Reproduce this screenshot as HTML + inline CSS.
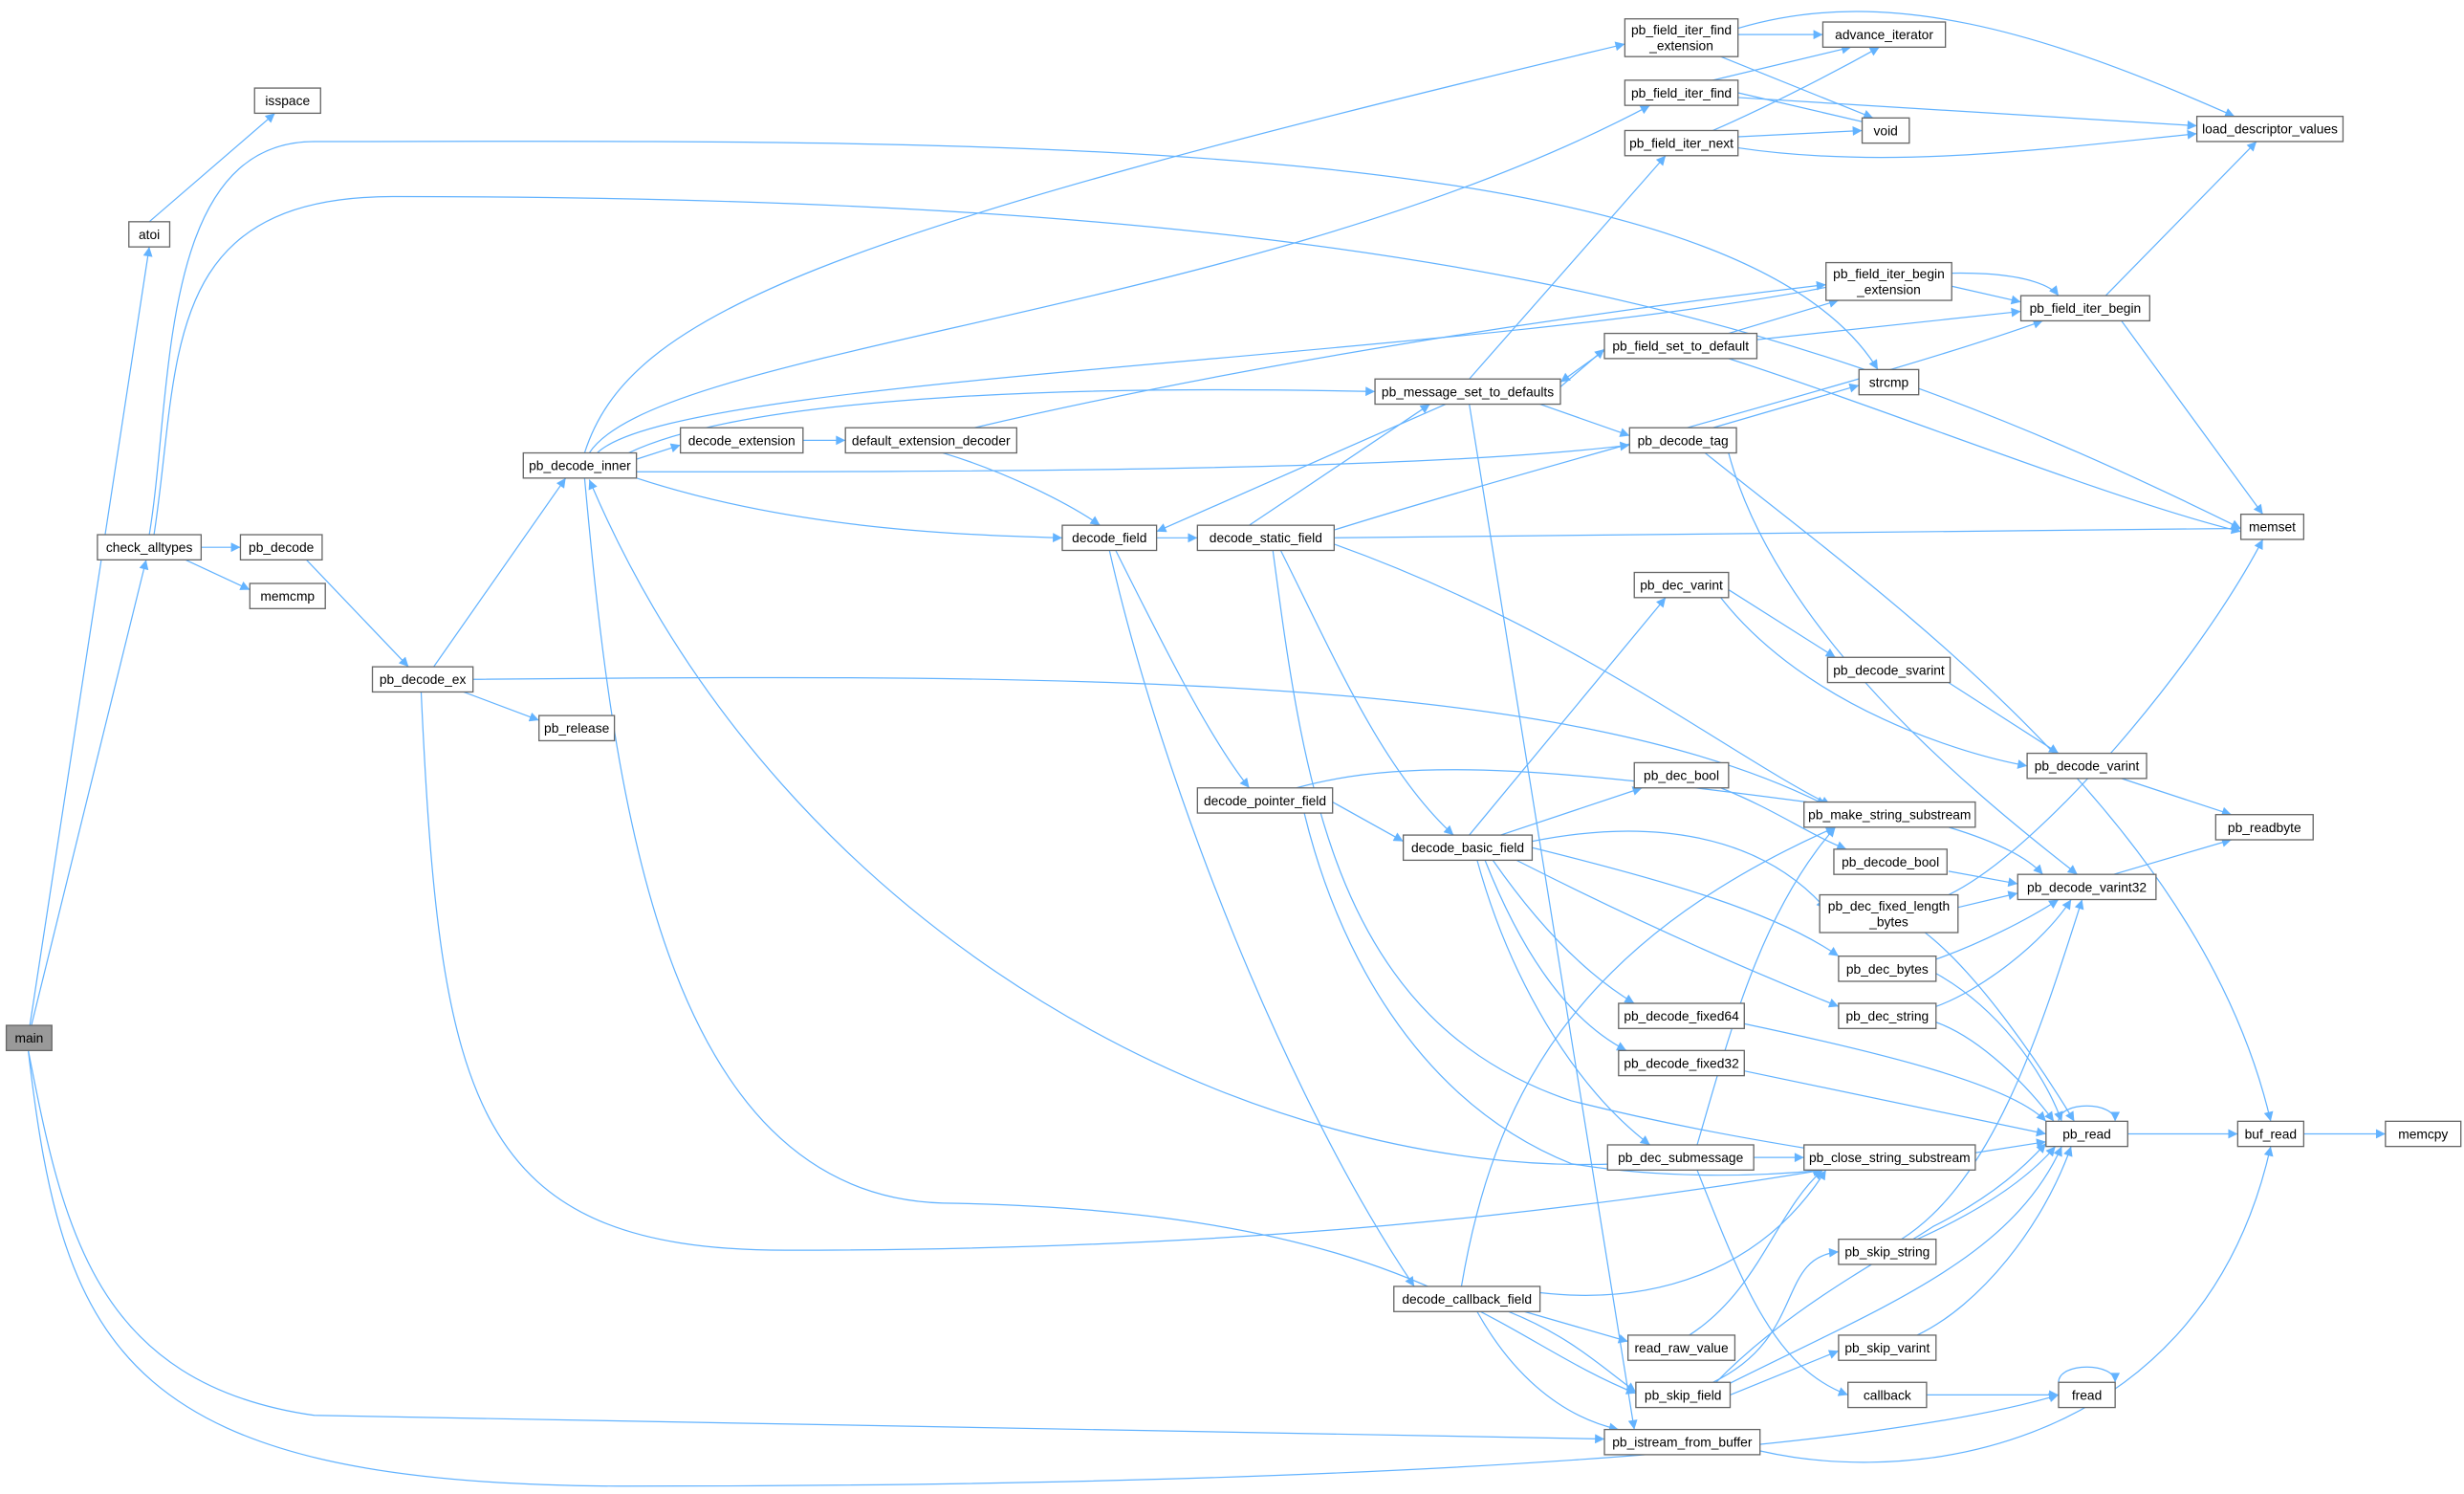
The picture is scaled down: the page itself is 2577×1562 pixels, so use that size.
<!DOCTYPE html>
<html><head><meta charset="utf-8"><style>
html,body{margin:0;padding:0;background:#fff;}
svg{display:block;}
text{font-family:"Liberation Sans",sans-serif;font-size:8.4px;fill:#000;text-anchor:middle;}
.n{fill:#fff;stroke:#666;stroke-width:0.8;}
.e{fill:none;stroke:#63b3ff;stroke-width:0.75;marker-end:url(#a);}
</style></head><body>
<svg width="2577" height="1562" viewBox="0 0 1568 950" preserveAspectRatio="none" xmlns="http://www.w3.org/2000/svg">
<defs><marker id="a" viewBox="0 0 10 10" refX="10" refY="5" markerWidth="7" markerHeight="6" markerUnits="userSpaceOnUse" orient="auto"><path d="M0,0L10,5L0,10z" fill="#63b3ff"/></marker></defs>
<g>
<path class="e" d="M19,652 L95,157"/>
<path class="e" d="M20,652 L93,356"/>
<path class="e" d="M18,668 C40,780 60,880 200,900 L1021,915"/>
<path class="e" d="M18,668 C40,860 80,945 400,945 C900,945 1200,920 1310,887"/>
<path class="e" d="M95,141 L175,72"/>
<path class="e" d="M95,340 C110,250 100,90 200,90 C600,90 1100,80 1195,235"/>
<path class="e" d="M98,340 C115,230 100,125 250,125 C900,125 1150,200 1426,336"/>
<path class="e" d="M128,348 L153,348"/>
<path class="e" d="M118,356 L159,375"/>
<path class="e" d="M195,356 L260,424"/>
<path class="e" d="M276,424 L360,304"/>
<path class="e" d="M295,440 L343,458"/>
<path class="e" d="M301,432 C700,428 1000,430 1162,512"/>
<path class="e" d="M268,440 C280,700 300,795 500,795 C800,795 1000,770 1160,744"/>
<path class="e" d="M372,288 C400,200 520,150 1034,28"/>
<path class="e" d="M375,288 C420,220 800,200 1050,67"/>
<path class="e" d="M380,288 C430,240 900,230 1150,185 C1250,165 1300,175 1310,188"/>
<path class="e" d="M400,288 C480,250 700,245 875,249"/>
<path class="e" d="M405,292 L433,283"/>
<path class="e" d="M405,300 C600,300 900,300 1037,283"/>
<path class="e" d="M405,304 C500,335 600,340 676,342"/>
<path class="e" d="M372,304 C390,500 420,760 600,765 C900,770 950,850 1041,886"/>
<path class="e" d="M1030,740 C800,750 500,600 375,305"/>
<path class="e" d="M511,280 L538,280"/>
<path class="e" d="M620,272 C800,230 1000,200 1162,181"/>
<path class="e" d="M600,288 C640,300 680,320 700,334"/>
<path class="e" d="M736,342 L762,342"/>
<path class="e" d="M710,350 C740,410 770,470 795,501"/>
<path class="e" d="M706,350 C740,500 820,700 900,818"/>
<path class="e" d="M795,334 L910,257"/>
<path class="e" d="M849,337 C1000,290 1200,240 1300,204"/>
<path class="e" d="M849,342 C1100,340 1300,338 1426,336"/>
<path class="e" d="M849,346 C1000,400 1100,480 1165,512"/>
<path class="e" d="M815,350 C850,420 880,490 925,531"/>
<path class="e" d="M810,350 C830,500 850,650 1000,700 C1080,720 1150,730 1160,732"/>
<path class="e" d="M935,241 L1060,99"/>
<path class="e" d="M993,246 L1021,222"/>
<path class="e" d="M980,257 L1037,277"/>
<path class="e" d="M920,257 L736,338"/>
<path class="e" d="M935,257 L1040,909"/>
<path class="e" d="M1100,212 L1170,191"/>
<path class="e" d="M1118,216 L1286,198"/>
<path class="e" d="M1100,228 C1200,260 1350,320 1426,338"/>
<path class="e" d="M1025,220 L993,243"/>
<path class="e" d="M1106,22 L1160,22"/>
<path class="e" d="M1095,36 L1192,75"/>
<path class="e" d="M1106,18 C1200,-10 1300,20 1422,74"/>
<path class="e" d="M1090,51 L1178,30"/>
<path class="e" d="M1106,59 L1192,79"/>
<path class="e" d="M1106,62 L1398,80"/>
<path class="e" d="M1090,83 C1120,70 1160,50 1196,30"/>
<path class="e" d="M1106,87 L1185,83"/>
<path class="e" d="M1106,94 C1200,108 1300,95 1398,85"/>
<path class="e" d="M1242,182 L1286,192"/>
<path class="e" d="M1340,188 L1436,90"/>
<path class="e" d="M1350,204 L1440,327"/>
<path class="e" d="M1090,272 L1183,245"/>
<path class="e" d="M1100,288 C1130,400 1250,500 1322,556"/>
<path class="e" d="M1085,288 C1200,380 1400,520 1445,713"/>
<path class="e" d="M1100,375 L1168,418"/>
<path class="e" d="M1095,380 C1150,450 1250,480 1290,487"/>
<path class="e" d="M1240,434 L1310,479"/>
<path class="e" d="M1350,495 L1420,518"/>
<path class="e" d="M1345,556 L1420,534"/>
<path class="e" d="M1240,526 C1270,535 1290,545 1300,556"/>
<path class="e" d="M1240,569 C1300,540 1400,420 1440,343"/>
<path class="e" d="M1240,554 L1284,562"/>
<path class="e" d="M1246,577 L1284,568"/>
<path class="e" d="M1232,610 C1260,600 1290,585 1310,572"/>
<path class="e" d="M1232,640 C1260,630 1300,600 1318,572"/>
<path class="e" d="M1225,593 C1260,620 1300,680 1320,713"/>
<path class="e" d="M1232,619 C1270,640 1300,680 1312,713"/>
<path class="e" d="M1232,650 C1260,660 1290,690 1307,713"/>
<path class="e" d="M1110,651 C1200,670 1280,690 1302,713"/>
<path class="e" d="M1110,681 L1302,721"/>
<path class="e" d="M1257,733 L1302,726"/>
<path class="e" d="M1310,713 C1310,700 1346,700 1346,713"/>
<path class="e" d="M1354,721 L1424,721"/>
<path class="e" d="M1466,721 L1518,721"/>
<path class="e" d="M1310,879 C1310,866 1346,866 1346,879"/>
<path class="e" d="M1226,887 L1310,887"/>
<path class="e" d="M1100,917 C1200,950 1400,930 1445,729"/>
<path class="e" d="M825,501 C900,480 1000,490 1165,512"/>
<path class="e" d="M848,510 L893,535"/>
<path class="e" d="M830,517 C850,600 900,700 1000,740 C1060,750 1120,748 1160,744"/>
<path class="e" d="M935,531 L1060,380"/>
<path class="e" d="M955,531 L1045,501"/>
<path class="e" d="M975,535 C1050,520 1120,530 1162,578"/>
<path class="e" d="M975,539 C1060,560 1130,580 1170,608"/>
<path class="e" d="M965,547 C1050,590 1120,620 1170,640"/>
<path class="e" d="M950,547 C980,590 1010,620 1040,638"/>
<path class="e" d="M945,547 C970,610 1000,650 1035,668"/>
<path class="e" d="M940,547 C960,620 1000,690 1050,728"/>
<path class="e" d="M1095,501 C1130,515 1150,530 1175,540"/>
<path class="e" d="M1116,736 L1148,736"/>
<path class="e" d="M1080,728 C1100,660 1120,580 1168,526"/>
<path class="e" d="M1080,744 C1110,820 1130,870 1176,887"/>
<path class="e" d="M930,818 C950,700 1000,600 1168,526"/>
<path class="e" d="M980,822 C1050,830 1120,810 1162,744"/>
<path class="e" d="M970,834 L1036,853"/>
<path class="e" d="M960,834 C1000,850 1020,870 1041,885"/>
<path class="e" d="M940,834 C960,870 990,900 1030,909"/>
<path class="e" d="M1075,849 C1120,820 1130,770 1160,744"/>
<path class="e" d="M1090,879 C1150,850 1130,800 1170,796"/>
<path class="e" d="M1101,887 L1170,859"/>
<path class="e" d="M1092,879 C1140,830 1200,800 1230,780 C1270,760 1290,740 1302,727"/>
<path class="e" d="M1100,880 C1200,830 1280,800 1312,729"/>
<path class="e" d="M1210,788 C1270,750 1300,650 1325,572"/>
<path class="e" d="M1220,788 C1260,770 1290,750 1308,729"/>
<path class="e" d="M1220,849 C1260,830 1300,780 1318,729"/>
</g>
<g>
<rect x="4" y="652" width="29" height="16" fill="#999" stroke="#666" stroke-width="0.8"/><text x="18.5" y="663">main</text>
<rect class="n" x="82" y="141" width="26" height="16"/><text x="95" y="152">atoi</text>
<rect class="n" x="162" y="56" width="42" height="16"/><text x="183" y="67">isspace</text>
<rect class="n" x="62" y="340" width="66" height="16"/><text x="95" y="351">check_alltypes</text>
<rect class="n" x="153" y="340" width="52" height="16"/><text x="179" y="351">pb_decode</text>
<rect class="n" x="159" y="371" width="48" height="16"/><text x="183" y="382">memcmp</text>
<rect class="n" x="237" y="424" width="64" height="16"/><text x="269" y="435">pb_decode_ex</text>
<rect class="n" x="343" y="455" width="48" height="16"/><text x="367" y="466">pb_release</text>
<rect class="n" x="333" y="288" width="72" height="16"/><text x="369" y="299">pb_decode_inner</text>
<rect class="n" x="433" y="272" width="78" height="16"/><text x="472" y="283">decode_extension</text>
<rect class="n" x="538" y="272" width="109" height="16"/><text x="592.5" y="283">default_extension_decoder</text>
<rect class="n" x="676" y="334" width="60" height="16"/><text x="706" y="345">decode_field</text>
<rect class="n" x="762" y="334" width="87" height="16"/><text x="805.5" y="345">decode_static_field</text>
<rect class="n" x="762" y="501" width="86" height="16"/><text x="805" y="512">decode_pointer_field</text>
<rect class="n" x="893" y="531" width="82" height="16"/><text x="934" y="542">decode_basic_field</text>
<rect class="n" x="887" y="818" width="93" height="16"/><text x="933.5" y="829">decode_callback_field</text>
<rect class="n" x="875" y="241" width="118" height="16"/><text x="934" y="252">pb_message_set_to_defaults</text>
<rect class="n" x="1034" y="12" width="72" height="24"/><text x="1070" y="22">pb_field_iter_find</text><text x="1070" y="32">_extension</text>
<rect class="n" x="1034" y="51" width="72" height="16"/><text x="1070" y="62">pb_field_iter_find</text>
<rect class="n" x="1034" y="83" width="72" height="16"/><text x="1070" y="94">pb_field_iter_next</text>
<rect class="n" x="1021" y="212" width="97" height="16"/><text x="1069.5" y="223">pb_field_set_to_default</text>
<rect class="n" x="1037" y="272" width="68" height="16"/><text x="1071" y="283">pb_decode_tag</text>
<rect class="n" x="1040" y="364" width="60" height="16"/><text x="1070" y="375">pb_dec_varint</text>
<rect class="n" x="1040" y="485" width="60" height="16"/><text x="1070" y="496">pb_dec_bool</text>
<rect class="n" x="1030" y="638" width="80" height="16"/><text x="1070" y="649">pb_decode_fixed64</text>
<rect class="n" x="1030" y="668" width="80" height="16"/><text x="1070" y="679">pb_decode_fixed32</text>
<rect class="n" x="1023" y="728" width="93" height="16"/><text x="1069.5" y="739">pb_dec_submessage</text>
<rect class="n" x="1036" y="849" width="68" height="16"/><text x="1070" y="860">read_raw_value</text>
<rect class="n" x="1041" y="879" width="60" height="16"/><text x="1071" y="890">pb_skip_field</text>
<rect class="n" x="1021" y="909" width="99" height="16"/><text x="1070.5" y="920">pb_istream_from_buffer</text>
<rect class="n" x="1160" y="14" width="78" height="16"/><text x="1199" y="25">advance_iterator</text>
<rect class="n" x="1185" y="75" width="30" height="16"/><text x="1200" y="86">void</text>
<rect class="n" x="1162" y="167" width="80" height="24"/><text x="1202" y="177">pb_field_iter_begin</text><text x="1202" y="187">_extension</text>
<rect class="n" x="1183" y="235" width="38" height="16"/><text x="1202" y="246">strcmp</text>
<rect class="n" x="1163" y="418" width="78" height="16"/><text x="1202" y="429">pb_decode_svarint</text>
<rect class="n" x="1148" y="510" width="109" height="16"/><text x="1202.5" y="521">pb_make_string_substream</text>
<rect class="n" x="1167" y="540" width="72" height="16"/><text x="1203" y="551">pb_decode_bool</text>
<rect class="n" x="1158" y="569" width="88" height="24"/><text x="1202" y="579">pb_dec_fixed_length</text><text x="1202" y="589">_bytes</text>
<rect class="n" x="1170" y="608" width="62" height="16"/><text x="1201" y="619">pb_dec_bytes</text>
<rect class="n" x="1170" y="638" width="62" height="16"/><text x="1201" y="649">pb_dec_string</text>
<rect class="n" x="1148" y="728" width="109" height="16"/><text x="1202.5" y="739">pb_close_string_substream</text>
<rect class="n" x="1170" y="788" width="62" height="16"/><text x="1201" y="799">pb_skip_string</text>
<rect class="n" x="1170" y="849" width="62" height="16"/><text x="1201" y="860">pb_skip_varint</text>
<rect class="n" x="1176" y="879" width="50" height="16"/><text x="1201" y="890">callback</text>
<rect class="n" x="1286" y="188" width="82" height="16"/><text x="1327" y="199">pb_field_iter_begin</text>
<rect class="n" x="1290" y="479" width="76" height="16"/><text x="1328" y="490">pb_decode_varint</text>
<rect class="n" x="1284" y="556" width="88" height="16"/><text x="1328" y="567">pb_decode_varint32</text>
<rect class="n" x="1302" y="713" width="52" height="16"/><text x="1328" y="724">pb_read</text>
<rect class="n" x="1398" y="74" width="93" height="16"/><text x="1444.5" y="85">load_descriptor_values</text>
<rect class="n" x="1426" y="327" width="40" height="16"/><text x="1446" y="338">memset</text>
<rect class="n" x="1410" y="518" width="62" height="16"/><text x="1441" y="529">pb_readbyte</text>
<rect class="n" x="1424" y="713" width="42" height="16"/><text x="1445" y="724">buf_read</text>
<rect class="n" x="1518" y="713" width="48" height="16"/><text x="1542" y="724">memcpy</text>
<rect class="n" x="1310" y="879" width="36" height="16"/><text x="1328" y="890">fread</text>
</g>
</svg>
</body></html>
